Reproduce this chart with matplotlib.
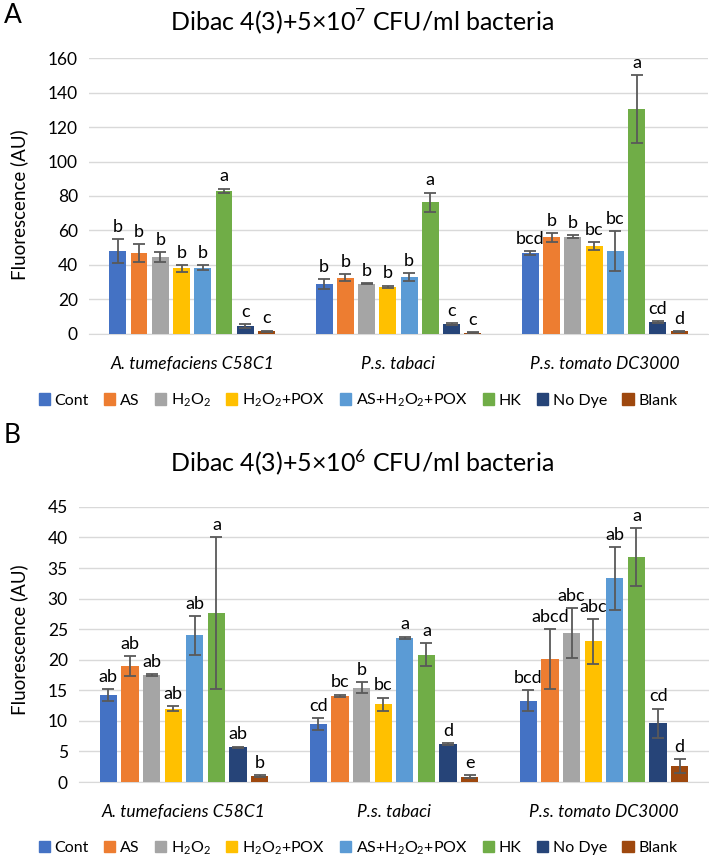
import numpy as np
import matplotlib
matplotlib.use("Agg")
import matplotlib.pyplot as plt
from matplotlib.patches import Patch

plt.rcParams['font.family'] = ['Lato', 'DejaVu Sans']
plt.rcParams['mathtext.fontset'] = 'custom'
plt.rcParams['mathtext.rm'] = 'Lato'
plt.rcParams['mathtext.it'] = 'Lato:italic'

groups = ["A. tumefaciens C58C1", "P.s. tabaci", "P.s. tomato DC3000"]
treatments = ["Cont", "AS", "H$_2$O$_2$", "H$_2$O$_2$+POX", "AS+H$_2$O$_2$+POX", "HK", "No Dye", "Blank"]
colors = ["#4472C4", "#ED7D31", "#A5A5A5", "#FFC000", "#5B9BD5", "#70AD47", "#264478", "#9E480E"]

# panel A: 5x10^7 CFU/ml, rows = treatments, cols = bacteria
a_vals = [[48, 29, 47], [47, 32.5, 56], [44.5, 29, 56.5], [38, 27.5, 51],
          [38.5, 33, 48], [83, 76.5, 130.5], [4.5, 5.7, 7], [1.5, 0.6, 1.5]]
a_err = [[7, 3, 1], [5, 2, 2.5], [3, 0.3, 0.8], [2, 0.6, 2.5],
         [1.5, 2.5, 11.5], [1.3, 5.5, 19.5], [1, 0.4, 0.5], [0.5, 0.3, 0.3]]
a_letters = [["b", "b", "bcd"], ["b", "b", "b"], ["b", "b", "b"], ["b", "b", "bc"],
             ["b", "b", "bc"], ["a", "a", "a"], ["c", "c", "cd"], ["c", "c", "d"]]

# panel B: 5x10^6 CFU/ml
b_vals = [[14.2, 9.5, 13.3], [19, 14.1, 20.1], [17.5, 15.4, 24.4], [12, 12.7, 23],
          [24, 23.6, 33.3], [27.6, 20.8, 36.8], [5.7, 6.2, 9.6], [1.0, 0.9, 2.6]]
b_err = [[1, 1, 1.7], [1.6, 0.2, 4.9], [0.2, 0.9, 4.1], [0.4, 1.1, 3.7],
         [3.2, 0.2, 5.1], [12.4, 1.9, 4.7], [0.1, 0.1, 2.4], [0.2, 0.2, 1.1]]
b_letters = [["ab", "cd", "bcd"], ["ab", "bc", "abcd"], ["ab", "b", "abc"], ["ab", "bc", "abc"],
             ["ab", "a", "ab"], ["a", "a", "a"], ["ab", "d", "cd"], ["b", "e", "d"]]

fig = plt.figure(figsize=(7.09, 8.57), dpi=100)


def panel(rect, vals, errs, letters, ymax, ystep):
    ax = fig.add_axes(rect)
    x = np.arange(len(groups))
    slot = 0.103
    for i in range(len(treatments)):
        pos = x + (i - 3.5) * slot
        ax.bar(pos, vals[i], width=0.082, color=colors[i], zorder=3)
        ax.errorbar(pos, vals[i], yerr=errs[i], fmt='none', ecolor='#595959',
                    elinewidth=1.3, capsize=4, capthick=1.3, zorder=4)
        for p, v, e, l in zip(pos, vals[i], errs[i], letters[i]):
            ax.annotate(l, (p, v + e), xytext=(0, 3), textcoords='offset points',
                        ha='center', va='bottom', fontsize=13)
    ax.set_xlim(-0.5, 2.5)
    ax.set_ylim(0, ymax)
    ax.set_yticks(np.arange(0, ymax + 1, ystep))
    ax.set_xticks(x)
    ax.set_xticklabels(groups, style='italic', fontsize=12.5)
    ax.tick_params(length=0, labelsize=12.5, pad=8)
    ax.tick_params(axis='x', pad=16)
    ax.grid(axis='y', color='#D9D9D9', linewidth=1, zorder=0)
    for s in ['left', 'top', 'right']:
        ax.spines[s].set_visible(False)
    ax.spines['bottom'].set_color('#D9D9D9')
    return ax


panel([0.1255, 0.6103, 0.873, 0.322], a_vals, a_err, a_letters, 160, 20)
panel([0.1114, 0.0875, 0.8886, 0.321], b_vals, b_err, b_letters, 45, 5)

fig.text(0.51, 0.975, "Dibac 4(3)+5×10$^7$ CFU/ml bacteria", ha='center', va='center', fontsize=18)
fig.text(0.51, 0.461, "Dibac 4(3)+5×10$^6$ CFU/ml bacteria", ha='center', va='center', fontsize=18)
fig.text(0.005, 0.982, "A", fontsize=19, va='center')
fig.text(0.005, 0.492, "B", fontsize=19, va='center')
fig.text(0.027, 0.761, "Fluorescence (AU)", rotation=90, ha='center', va='center', fontsize=13.5)
fig.text(0.027, 0.253, "Fluorescence (AU)", rotation=90, ha='center', va='center', fontsize=13.5)

handles = [Patch(color=c, label=t) for c, t in zip(colors, treatments)]
for yy in [0.533, 0.0105]:
    fig.legend(handles=handles, loc='center', bbox_to_anchor=(0.505, yy), ncol=8,
               frameon=False, fontsize=11.5, handlelength=0.7, handleheight=0.7,
               handletextpad=0.3, columnspacing=0.95)

fig.savefig("out.png", dpi=100)
